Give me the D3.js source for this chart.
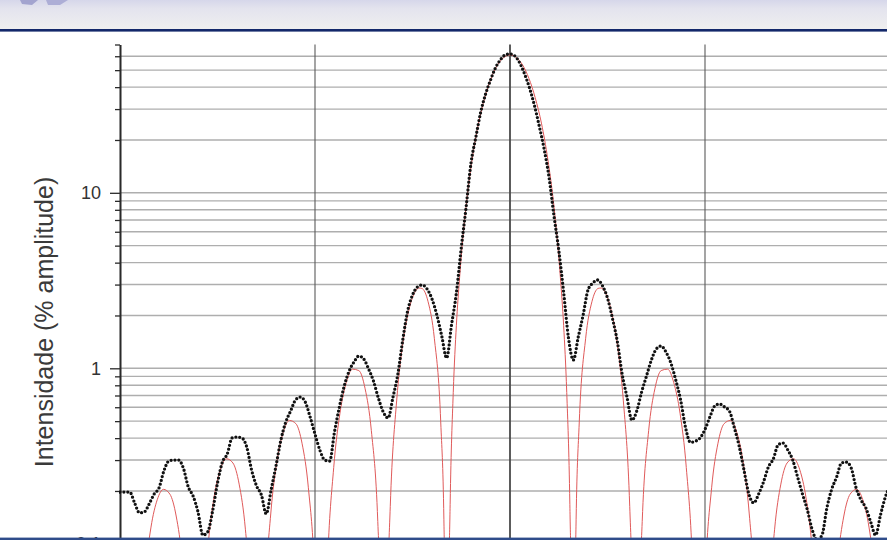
<!DOCTYPE html>
<html><head><meta charset="utf-8">
<script src="https://cdn.jsdelivr.net/npm/d3@7"></script>
<style>html,body{margin:0;padding:0;background:#fff;overflow:hidden}</style>
</head><body>
<svg id="chart" width="887" height="540"></svg>
<script>
// ---------- data ----------
const gridAngles = [-10, 0, 10];
const yMajorTicks = [0.1, 1, 10];
const yTickLabels = ["0.1", "1", "10"];
const yMinorTicks = [0.2,0.3,0.4,0.5,0.6,0.7,0.8,0.9,2,3,4,5,6,7,8,9,20,30,40,50,60,70];
const yGridValues = [0.2,0.3,0.4,0.5,0.6,0.7,0.8,0.9,1,2,3,4,5,6,7,8,9,10,20,30,40,50,60];
const yAxisTitle = "Intensidade (% amplitude)";

// measured pattern (black dots)
const blackAngle = [-20,-19.75,-19.5,-19.25,-19,-18.75,-18.5,-18.25,-18,-17.75,-17.5,-17.25,-17,-16.75,-16.5,-16.25,-16,-15.75,-15.5,-15.25,-15,-14.75,-14.5,-14.25,-14,-13.75,-13.5,-13.25,-13,-12.75,-12.5,-12.25,-12,-11.75,-11.5,-11.25,-11,-10.75,-10.5,-10.25,-10,-9.75,-9.5,-9.25,-9,-8.75,-8.5,-8.25,-8,-7.75,-7.5,-7.25,-7,-6.75,-6.5,-6.25,-6,-5.75,-5.5,-5.25,-5,-4.75,-4.5,-4.25,-4,-3.75,-3.5,-3.25,-3,-2.75,-2.5,-2.25,-2,-1.75,-1.5,-1.25,-1,-0.75,-0.5,-0.25,0,0.25,0.5,0.75,1,1.25,1.5,1.75,2,2.25,2.5,2.75,3,3.25,3.5,3.75,4,4.25,4.5,4.75,5,5.25,5.5,5.75,6,6.25,6.5,6.75,7,7.25,7.5,7.75,8,8.25,8.5,8.75,9,9.25,9.5,9.75,10,10.25,10.5,10.75,11,11.25,11.5,11.75,12,12.25,12.5,12.75,13,13.25,13.5,13.75,14,14.25,14.5,14.75,15,15.25,15.5,15.75,16,16.25,16.5,16.75,17,17.25,17.5,17.75,18,18.25,18.5,18.75,19,19.25,19.5];
const blackIntensity = [0.197,0.197,0.197,0.171,0.150,0.152,0.169,0.192,0.208,0.260,0.296,0.300,0.300,0.270,0.211,0.187,0.152,0.112,0.117,0.154,0.222,0.292,0.325,0.401,0.406,0.401,0.356,0.263,0.214,0.190,0.148,0.203,0.278,0.390,0.494,0.571,0.660,0.686,0.643,0.528,0.422,0.342,0.300,0.296,0.434,0.602,0.793,0.965,1.086,1.175,1.130,0.991,0.846,0.677,0.564,0.521,0.686,0.928,1.450,2.121,2.616,2.906,2.983,2.830,2.483,2.012,1.528,1.145,1.765,2.686,4.849,8.30,14.78,20.8,28.9,36.6,43.9,51.4,57.1,61.0,61.8,60.2,54.9,47.5,39.6,31.6,24.0,17.8,12.3,7.47,4.72,2.72,1.488,1.115,1.508,2.012,2.794,3.062,3.185,2.944,2.515,1.934,1.431,0.928,0.686,0.507,0.571,0.733,0.904,1.115,1.288,1.340,1.238,1.072,0.858,0.660,0.461,0.379,0.384,0.401,0.449,0.528,0.610,0.626,0.602,0.571,0.461,0.361,0.263,0.192,0.171,0.192,0.225,0.274,0.304,0.366,0.375,0.342,0.300,0.240,0.192,0.156,0.120,0.105,0.112,0.160,0.205,0.240,0.289,0.292,0.270,0.208,0.178,0.160,0.133,0.112,0.146,0.185,0.216];

// theoretical pattern (red line)
const redAngle = [-20.67,-20.35,-20.03,-19.70,-19.54,-19.38,
 -19.22,-19.06,-18.73,-18.41,-18.09,-17.77,-17.44,-17.12,-16.80,-16.47,-16.31,-16.15,
 -15.99,-15.83,-15.50,-15.18,-14.86,-14.54,-14.21,-13.89,-13.57,-13.24,-13.08,-12.92,
 -12.76,-12.60,-12.27,-11.95,-11.63,-11.31,-10.98,-10.66,-10.34,-10.01,-9.85,-9.69,
 -9.63,-9.53,-9.37,-9.04,-8.72,-8.40,-8.08,-7.75,-7.43,-7.11,-6.78,-6.62,-6.53,-6.46,
 -6.40,-6.30,-6.14,-5.81,-5.49,-5.17,-4.85,-4.68,-4.52,-4.20,-3.88,-3.55,-3.39,-3.30,-3.23,
 -3.17,-3.07,-2.91,-2.75,-2.58,-2.26,-1.94,-1.62,-1.29,-0.97,-0.65,-0.32,0,
 0.32,0.65,0.97,1.29,1.62,1.94,2.26,2.58,2.75,2.91,3.07,3.17,
 3.23,3.30,3.39,3.55,3.88,4.20,4.52,4.68,4.85,5.17,5.49,5.81,6.14,6.30,6.40,
 6.46,6.53,6.62,6.78,7.11,7.43,7.75,8.08,8.40,8.72,9.04,9.37,9.53,9.63,
 9.69,9.85,10.01,10.34,10.66,10.98,11.31,11.63,11.95,12.27,12.60,12.76,
 12.92,13.08,13.24,13.57,13.89,14.21,14.54,14.86,15.18,15.50,15.83,15.99,
 16.15,16.31,16.47,16.80,17.12,17.44,17.77,18.09,18.41,18.73,19.06,19.22,
 19.38,19.54,19.70];
const redIntensity = [0.1365,0.1019,0.0556,0.0159,0.00413,0.0005,
 0.00427,0.0170,0.0635,0.1245,0.1783,0.2043,0.1917,0.1440,0.0790,0.0227,0.00593,0.0005,
 0.00617,0.0246,0.0927,0.1831,0.2642,0.3052,0.2888,0.2188,0.1211,0.0351,0.00922,0.0005,
 0.00969,0.0388,0.1479,0.2955,0.4313,0.5045,0.4836,0.3715,0.2085,0.0614,0.01625,0.0005,
 0.00274,0.01737,0.0702,0.2724,0.5549,0.8270,0.9889,0.9705,0.7647,0.4412,0.1338,0.036,0.00597,0.0005,
 0.00622,0.0398,0.1635,0.659,1.400,2.184,2.747,2.868,2.852,2.394,1.483,0.488,0.137,0.0234,0.0005,
 0.0254,0.167,0.729,1.76,3.34,8.26,15.5,24.7,34.9,44.9,53.4,59.0,61,
 59.0,53.4,44.9,34.9,24.7,15.5,8.26,3.34,1.76,0.729,0.167,0.0254,
 0.0005,0.0234,0.137,0.488,1.483,2.394,2.852,2.868,2.747,2.184,1.400,0.659,0.1635,0.0398,0.00622,
 0.0005,0.00597,0.036,0.1338,0.4412,0.7647,0.9705,0.9889,0.8270,0.5549,0.2724,0.0702,0.01737,0.00274,
 0.0005,0.01625,0.0614,0.2085,0.3715,0.4836,0.5045,0.4313,0.2955,0.1479,0.0388,0.00969,
 0.0005,0.00922,0.0351,0.1211,0.2188,0.2888,0.3052,0.2642,0.1831,0.0927,0.0246,0.00617,
 0.0005,0.00593,0.0227,0.0790,0.1440,0.1917,0.2043,0.1783,0.1245,0.0635,0.0170,0.00427,
 0.0005,0.00413,0.0159];

// ---------- drawing ----------
const W = 887, H = 540;
const svg = d3.select("#chart");
const font = "'Liberation Sans', Arial, Helvetica, sans-serif";

const x = d3.scaleLinear().domain([-20, 20]).range([120, 900]);
const y = d3.scaleLog().domain([0.1, 70]).range([543.8, 44.5]);

const defs = svg.append("defs");
const hg = defs.append("linearGradient").attr("id","hdr").attr("x1",0).attr("y1",0).attr("x2",0).attr("y2",1);
hg.append("stop").attr("offset","0%").attr("stop-color","#d6d7ea");
hg.append("stop").attr("offset","30%").attr("stop-color","#e4e4ee");
hg.append("stop").attr("offset","100%").attr("stop-color","#efefef");
defs.append("clipPath").attr("id","plot").append("rect")
  .attr("x",119).attr("y",40).attr("width",W-119).attr("height",H-40);

svg.append("rect").attr("width",W).attr("height",H).attr("fill","#fff");

// header band
svg.append("rect").attr("x",0).attr("y",0).attr("width",W).attr("height",30).attr("fill","url(#hdr)");
svg.append("path").attr("d","M20,0 L38,0 L32,5 L22,4 Z").attr("fill","#a3a4cf");
svg.append("path").attr("d","M46,0 L68,0 L60,5 L48,5 Z").attr("fill","#adaed6");
svg.append("rect").attr("x",0).attr("y",29).attr("width",W).attr("height",2.6).attr("fill","#13286a");

const g = svg.append("g");

// horizontal grid
g.append("g").selectAll("line").data(yGridValues).join("line")
  .attr("x1", x(-20)).attr("x2", W)
  .attr("y1", d => y(d)).attr("y2", d => y(d))
  .attr("stroke", "#aeaeae").attr("stroke-width", 1.4);

// vertical grid
g.append("g").selectAll("line").data(gridAngles).join("line")
  .attr("x1", d => x(d)).attr("x2", d => x(d))
  .attr("y1", y(70)).attr("y2", H)
  .attr("stroke", d => d === 0 ? "#4a4a4a" : "#5a5a5a")
  .attr("stroke-width", d => d === 0 ? 1.8 : 1.1);

// y axis (major + minor ticks)
const axMajor = d3.axisLeft(y).tickValues(yMajorTicks).tickSize(10).tickSizeOuter(0).tickPadding(9)
  .tickFormat((d,i) => yTickLabels[i]);
const axMinor = d3.axisLeft(y).tickValues(yMinorTicks).tickSize(5).tickSizeOuter(0).tickFormat("");
const gMinor = g.append("g").attr("transform", `translate(${x(-20)},0)`).call(axMinor);
const gMajor = g.append("g").attr("transform", `translate(${x(-20)},0)`).call(axMajor);
[gMinor, gMajor].forEach(a => {
  a.select(".domain").attr("stroke", "#2a2a2a").attr("stroke-width", 1.6);
  a.selectAll(".tick line").attr("stroke", "#2a2a2a").attr("stroke-width", 1.3);
});
gMajor.selectAll(".tick text").attr("font-family", font).attr("font-size", 18).attr("fill", "#333");

// y axis title
svg.append("text")
  .attr("transform", `translate(53,322) rotate(-90)`)
  .attr("text-anchor", "middle")
  .attr("font-family", font).attr("font-size", 25).attr("fill", "#3a3a3a")
  .text(yAxisTitle);

const plot = svg.append("g").attr("clip-path", "url(#plot)");

// theoretical red line
const redData = redAngle.map((a,i) => [a, redIntensity[i]]);
plot.append("path").datum(redData)
  .attr("fill", "none").attr("stroke", "#e05a5a").attr("stroke-width", 1)
  .attr("d", d3.line().x(d => x(d[0])).y(d => y(d[1])).curve(d3.curveMonotoneX));

// measured black dots
const blackData = blackAngle.map((a,i) => [a, blackIntensity[i]]);
plot.append("path").datum(blackData)
  .attr("fill", "none").attr("stroke", "#111").attr("stroke-width", 3.3)
  .attr("stroke-linecap", "round").attr("stroke-dasharray", "0 3.9")
  .attr("d", d3.line().x(d => x(d[0])).y(d => y(d[1])).curve(d3.curveMonotoneX));

// bottom band
svg.append("rect").attr("x",0).attr("y",537.6).attr("width",W).attr("height",3).attr("fill","#2f4c8a");
</script>
</body></html>
